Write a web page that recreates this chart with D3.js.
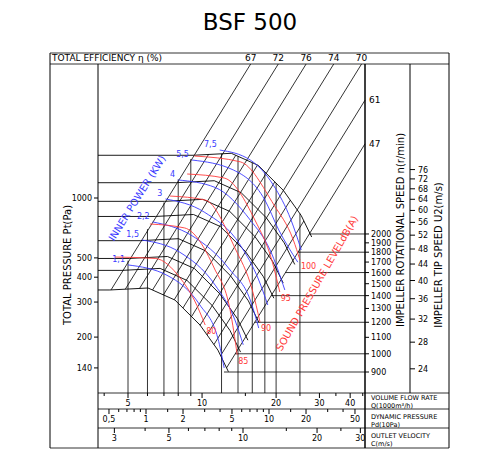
<!DOCTYPE html>
<meta charset="utf-8">
<body style="margin:0">
<script src="https://d3js.org/d3.v7.min.js"></script>
<div id="chart"></div>
<script>
// base fan curve (lowest speed), Q in 1000 m3/h, P in Pa
var baseQ = [4.22, 6.03, 7.76, 9.81, 11.6, 12.8];
var baseP = [345, 353, 307, 230, 172, 134];
var speedRatios = [1, 1.12, 1.2, 1.33, 1.53, 1.67, 1.86, 2.18];

// efficiency / system lines: Q where the line crosses 1000 Pa
var effLabels = ["67", "72", "76", "74", "70", "61", "47"];
var effQ1000 = [7.26, 9.4, 12.2, 15.8, 20.5, 26.1, 33.6];

var powerLabels = ["1,1", "1,5", "2,2", "3", "4", "5,5", "7,5"];
var powerQ = [[5,7.2,9.8,11.6,12.3],[5.7,8.1,11.3,13.6,14.7],[6.3,9.0,13.0,15.7,17.0],
  [7.1,10.2,14.3,17,18.5],[8,11.3,15.7,18.9,21.7],[9.1,13.4,18,20.5,24.5],[11.8,15.7,19.5,23,25.3]];
var powerP = [[461,409,290,197,140],[615,535,365,244,183],[758,652,435,307,222],
  [989,850,580,387,290],[1232,1130,775,548,345],[1552,1383,977,691,476],[1742,1552,1160,775,548]];

var soundLabels = ["80", "85", "90", "95", "100"];
var soundQ = [[4.43,6.45,8.14,9.3,10.3],[6.14,8.5,11.2,13,13.9],[7.41,10.3,13.6,16,17.2],
  [8.7,12.3,16.4,19.2,20.7],[9.3,14.3,19.6,23.5,25]];
var soundP = [[505,497,397,307,230],[740,707,445,274,163],[1023,977,561,345,238],
  [1320,1260,775,488,337],[1625,1520,923,615,488]];

var pTicks = [140, 200, 300, 400, 500, 1000];
var qGrid = [5, 6, 7, 8, 9, 12, 14, 16, 18, 20, 25];
var qTicks = [5, 10, 20, 30, 40];
var qMinor = [4, 6, 7, 8, 9, 15, 25, 35, 45];
var pdTicks = [0.5, 1, 2, 5, 10, 20, 50];
var pdMinor = [0.6, 0.7, 0.8, 0.9, 1.5, 3, 4, 6, 7, 8, 9, 15, 30, 40];
var cTicks = [3, 5, 10, 20, 30];
var cMinor = [4, 6, 7, 8, 9, 15, 25];
var nTicks = [900, 1000, 1100, 1200, 1300, 1400, 1500, 1600, 1700, 1800, 1900, 2000];
var nLines = [900, 1000, 1200, 1400, 1600, 1800, 2000];
var uTicks = [24, 28, 32, 36, 40, 44, 48, 52, 56, 60, 64, 68, 72, 76];

var W = 500, H = 450, L = 98, R = 365, T = 64, B = 393;
var font = "DejaVu Sans, Verdana, sans-serif";
var blue = "#3a3aff", red = "#ff3a3a";

var svg = d3.select("#chart").append("svg").attr("width", W).attr("height", H)
  .style("font-family", font);

// log scales, calibrated to the picture
var x = d3.scaleLog().domain([5, 50]).range([128, 374]);
var y = d3.scaleLog().domain([100, 1000]).range([397, 198]);
var n = d3.scaleLog().domain([900, 9000]).range([372, -26]);
var u = d3.scaleLog().domain([Math.PI * 0.5 * 900 / 60, Math.PI * 0.5 * 9000 / 60]).range([372, -26]);
var pd = d3.scaleLog().domain([1, 10]).range([146, 269]);
var cv = d3.scaleLog().domain([10, 100]).range([243, 489]);

var line = d3.line().x(d => x(d[0])).y(d => y(d[1]));
var g = svg.append("g");

// frame
g.append("text").attr("x", 250).attr("y", 30).attr("text-anchor", "middle")
  .attr("font-size", 23).text("BSF 500");
var hl = [[50, 449, 53], [50, 449, 64], [L, 449, B], [L, 449, 409], [L, 449, 428], [50, 449, 448]];
hl.forEach(h => g.append("line").attr("x1", h[0]).attr("x2", h[1]).attr("y1", h[2]).attr("y2", h[2]).attr("stroke", "#333"));
[[50, 53, 448], [449, 53, 448], [L, T, 448], [R, T, 448], [410, T, B]].forEach(v =>
  g.append("line").attr("x1", v[0]).attr("x2", v[0]).attr("y1", v[1]).attr("y2", v[2]).attr("stroke", "#000")
    .attr("stroke-width", v[0] == R ? 1.5 : 1));
g.append("text").attr("x", 52).attr("y", 61).attr("font-size", 9).text("TOTAL EFFICIENCY η (%)");

function arch(r) { return baseQ.map((q, i) => [q * r, baseP[i] * r * r]); }
var topArch = arch(speedRatios[speedRatios.length - 1]);
var K0 = baseP[0] / (baseQ[0] * baseQ[0]);

// upper envelope P at Q
function topP(q) {
  if (q <= topArch[0][0]) return K0 * q * q;
  for (var i = 1; i < topArch.length; i++) if (q <= topArch[i][0]) {
    var t = (Math.log(q) - Math.log(topArch[i-1][0])) / (Math.log(topArch[i][0]) - Math.log(topArch[i-1][0]));
    return Math.exp(Math.log(topArch[i-1][1]) + t * (Math.log(topArch[i][1]) - Math.log(topArch[i-1][1])));
  }
  return null;
}
// point of base curve where P/Q^2 = K
function baseHit(K) {
  var ks = baseQ.map((q, i) => baseP[i] / (q * q));
  for (var i = 1; i < ks.length; i++) if (K >= ks[i]) {
    var t = (Math.log(K) - Math.log(ks[i-1])) / (Math.log(ks[i]) - Math.log(ks[i-1]));
    return [Math.exp(Math.log(baseQ[i-1]) + t * (Math.log(baseQ[i]) - Math.log(baseQ[i-1]))),
            Math.exp(Math.log(baseP[i-1]) + t * (Math.log(baseP[i]) - Math.log(baseP[i-1])))];
  }
  return [baseQ[baseQ.length-1], baseP[baseP.length-1]];
}

// vertical Q gridlines
qGrid.forEach(q => {
  var p = topP(q);
  g.append("line").attr("x1", x(q)).attr("x2", x(q)).attr("y1", B).attr("y2", p ? y(p) : B).attr("stroke", "#000").attr("stroke-width", 0.8);
});

// efficiency diagonals
var Ks = effQ1000.map(q => 1000 / (q * q));
Ks.forEach((K, i) => {
  var s = baseHit(Math.min(K, K0));
  var pEnd = y.invert(T), qEnd = Math.sqrt(pEnd / K);
  var lab = [x(qEnd), T];
  if (x(qEnd) > R) { qEnd = x.invert(R); pEnd = K * qEnd * qEnd; lab = [R, y(pEnd)]; }
  g.append("path").attr("d", line([s, [qEnd, pEnd]])).attr("fill", "none").attr("stroke", "#000").attr("stroke-width", 0.8);
  if (i < 5) g.append("text").attr("x", lab[0]).attr("y", 61).attr("text-anchor", "middle").attr("font-size", 9).text(effLabels[i]);
  else g.append("text").attr("x", R + 4).attr("y", lab[1] + 3).attr("font-size", 9).text(effLabels[i]);
});
// intermediate mesh diagonals inside the fan
for (var i = 0; i < Ks.length - 1; i++) {
  var K = Math.sqrt(Ks[i] * Ks[i+1]), s = baseHit(K), rr = speedRatios[speedRatios.length - 1];
  g.append("path").attr("d", line([s, [s[0] * rr, s[1] * rr * rr]])).attr("fill", "none").attr("stroke", "#000").attr("stroke-width", 0.8);
}

// fan curves with flat lead-in to the pressure axis
speedRatios.forEach(r => {
  var a = arch(r);
  g.append("path").attr("d", line([[x.invert(L), a[0][1]]].concat(a))).attr("fill", "none").attr("stroke", "#000").attr("stroke-width", 0.9);
});

// speed lines from right axis to the last system line
var Klast = Ks[Ks.length - 1];
nLines.forEach(v => {
  var p = y.invert(n(v)), q = Math.sqrt(p / Klast);
  g.append("line").attr("x1", x(q)).attr("x2", R).attr("y1", n(v)).attr("y2", n(v)).attr("stroke", "#000").attr("stroke-width", 0.8);
});

var curve = d3.line().x(d => x(d[0])).y(d => y(d[1])).curve(d3.curveMonotoneX);
powerQ.forEach((qs, i) => {
  g.append("path").attr("d", curve(qs.map((q, j) => [q, powerP[i][j]]))).attr("fill", "none").attr("stroke", blue).attr("stroke-width", 0.9);
  g.append("text").attr("x", x(qs[0]) - 3).attr("y", y(powerP[i][0]) - 3).attr("text-anchor", "end").attr("fill", blue).attr("font-size", 8).text(powerLabels[i]);
});
soundQ.forEach((qs, i) => {
  g.append("path").attr("d", curve(qs.map((q, j) => [q, soundP[i][j]]))).attr("fill", "none").attr("stroke", red).attr("stroke-width", 0.9);
  var e = qs.length - 1;
  g.append("text").attr("x", x(qs[e]) + 1).attr("y", y(soundP[i][e]) + 9).attr("fill", red).attr("font-size", 8).text(soundLabels[i]);
});

g.append("text").attr("transform", "translate(140,200) rotate(-58)").attr("text-anchor", "middle")
  .attr("fill", blue).attr("font-size", 10).text("INNER POWER (KW)");
g.append("text").attr("transform", "translate(320,285) rotate(-60)").attr("text-anchor", "middle")
  .attr("fill", red).attr("font-size", 10).text("SOUND PRESSURE LEVELdB(A)");

// left pressure axis
pTicks.forEach(p => {
  g.append("line").attr("x1", L - 4).attr("x2", L).attr("y1", y(p)).attr("y2", y(p)).attr("stroke", "#000");
  g.append("text").attr("x", L - 6).attr("y", y(p) + 3).attr("text-anchor", "end").attr("font-size", 8).text(p);
});
g.append("text").attr("transform", "translate(71,265) rotate(-90)").attr("text-anchor", "middle")
  .attr("font-size", 10).text("TOTAL PRESSURE Pt(Pa)");

// right axes
nTicks.forEach(v => {
  g.append("line").attr("x1", R).attr("x2", R + 4).attr("y1", n(v)).attr("y2", n(v)).attr("stroke", "#000");
  g.append("text").attr("x", R + 6).attr("y", n(v) + 3).attr("font-size", 8).text(v);
});
g.append("text").attr("transform", "translate(404,230) rotate(-90)").attr("text-anchor", "middle")
  .attr("font-size", 10).text("IMPELLER ROTATIONAL SPEED n(r/min)");
uTicks.forEach(v => {
  g.append("line").attr("x1", 410).attr("x2", 415).attr("y1", u(v)).attr("y2", u(v)).attr("stroke", "#000");
  g.append("text").attr("x", 418).attr("y", u(v) + 3).attr("font-size", 8).text(v);
});
g.append("text").attr("transform", "translate(442,255) rotate(-90)").attr("text-anchor", "middle")
  .attr("font-size", 10).text("IMPELLER TIP SPEED U2(m/s)");

// bottom scales
function row(sc, major, minor, y0, fmt) {
  minor.forEach(v => { if (sc(v) > L && sc(v) < R) g.append("line").attr("x1", sc(v)).attr("x2", sc(v)).attr("y1", y0).attr("y2", y0 + 3).attr("stroke", "#000"); });
  major.forEach(v => {
    g.append("line").attr("x1", sc(v)).attr("x2", sc(v)).attr("y1", y0).attr("y2", y0 + 5).attr("stroke", "#000");
    g.append("text").attr("x", sc(v)).attr("y", y0 + 13).attr("text-anchor", "middle").attr("font-size", 8).text(fmt(v));
  });
}
row(x, qTicks, qMinor, B, v => v);
row(pd, pdTicks, pdMinor, 409, v => String(v).replace(".", ","));
row(cv, cTicks, cMinor, 428, v => v);
[["VOLUME FLOW RATE", "Q(1000m³/h)", 400], ["DYNAMIC PRESSURE", "Pd(10Pa)", 419], ["OUTLET VELOCITY", "C(m/s)", 438]].forEach(t => {
  g.append("text").attr("x", 371).attr("y", t[2]).attr("font-size", 6.5).text(t[0]);
  g.append("text").attr("x", 371).attr("y", t[2] + 7.5).attr("font-size", 6.5).text(t[1]);
});
</script>
